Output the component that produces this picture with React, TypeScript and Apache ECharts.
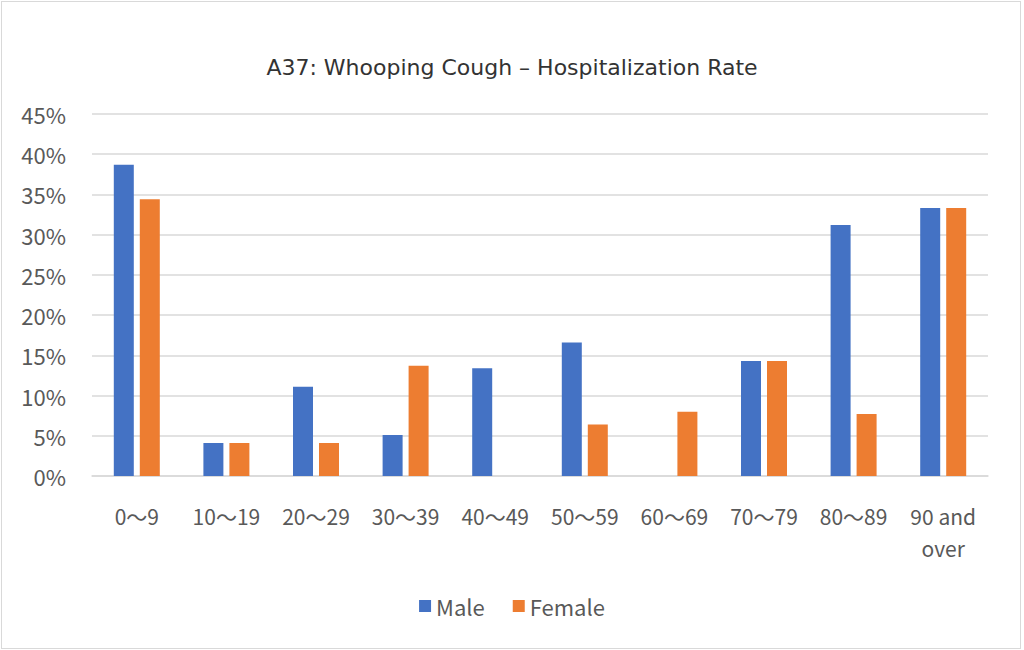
import React, { useEffect, useRef } from "react";
import * as echarts from "echarts";

const categories = ["0～9", "10～19", "20～29", "30～39", "40～49", "50～59", "60～69", "70～79", "80～89", "90 and over"];
const maleValues = [38.7, 4.1, 11.1, 5.1, 13.4, 16.6, 0, 14.3, 31.2, 33.3];
const femaleValues = [34.4, 4.1, 4.1, 13.7, 0, 6.4, 8.0, 14.3, 7.7, 33.3];
const yTicks = { min: 0, max: 45, interval: 5 };

export default function App() {
  const ref = useRef<HTMLDivElement>(null);
  useEffect(() => {
    if (!ref.current) return;
    const chart = echarts.init(ref.current, undefined, { renderer: "svg" });
    const font = "'Noto Sans CJK JP', 'Noto Sans', sans-serif";
    chart.setOption({
      animation: false,
      title: {
        text: "A37: Whooping Cough – Hospitalization Rate",
        left: "center",
        top: 51,
        textStyle: { fontFamily: "'DejaVu Sans', sans-serif", fontSize: 22, fontWeight: "normal", color: "#333333" },
      },
      legend: {
        data: ["Male", "Female"],
        left: "center",
        top: 590,
        itemWidth: 12,
        itemHeight: 12,
        itemGap: 28,
        icon: "rect",
        textStyle: { fontFamily: font, fontSize: 22, color: "#595959" },
      },
      grid: { left: 92, right: 36, top: 114, bottom: 174 },
      xAxis: {
        type: "category",
        data: categories,
        axisLine: { lineStyle: { color: "#d9d9d9", width: 1.5 } },
        axisTick: { show: false },
        axisLabel: {
          interval: 0,
          margin: 24,
          fontFamily: font,
          fontSize: 21,
          lineHeight: 32,
          color: "#595959",
          formatter: (v: string) => (v === "90 and over" ? "90 and\nover" : v),
        },
      },
      yAxis: {
        type: "value",
        min: yTicks.min,
        max: yTicks.max,
        interval: yTicks.interval,
        axisLine: { show: false },
        axisTick: { show: false },
        splitLine: { lineStyle: { color: "#d9d9d9", width: 1.5 } },
        axisLabel: {
          margin: 26,
          fontFamily: font,
          fontSize: 22,
          color: "#595959",
          formatter: "{value}%",
        },
      },
      series: [
        {
          name: "Male",
          type: "bar",
          data: maleValues,
          barWidth: 20,
          barGap: "30%",
          itemStyle: { color: "#4472C4" },
        },
        {
          name: "Female",
          type: "bar",
          data: femaleValues,
          barWidth: 20,
          itemStyle: { color: "#ED7D31" },
        },
      ],
    });
    return () => chart.dispose();
  }, []);
  return (
    <div style={{ position: "fixed", left: 0, top: 0, width: 1024, height: 650, background: "#fff" }}>
      <div ref={ref} style={{ position: "absolute", left: 0, top: 0, width: 1024, height: 650 }} />
      <div style={{ position: "absolute", left: 1, top: 1, width: 1018, height: 646, border: "1px solid #d9d9d9", pointerEvents: "none" }} />
    </div>
  );
}
